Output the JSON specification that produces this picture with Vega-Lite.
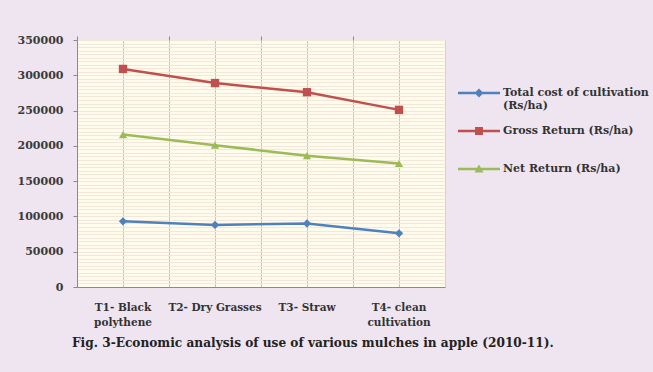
{
  "$schema": "https://vega.github.io/schema/vega-lite/v6.json",
  "width": 368,
  "height": 247,
  "autosize": {"type": "none"},
  "padding": {"left": 77, "top": 40, "right": 208, "bottom": 85},
  "background": "#EEE5F1",
  "config": {
    "view": {"fill": "#FFFCEE", "stroke": "#D6CCD6"},
    "font": "DejaVu Serif"
  },
  "title": {
    "text": "Fig. 3-Economic analysis of  use of various mulches in apple (2010-11).",
    "orient": "bottom",
    "anchor": "start",
    "frame": "group",
    "dx": -5,
    "offset": 8,
    "font": "DejaVu Serif Condensed",
    "fontSize": 13.5,
    "fontWeight": "bold",
    "color": "#222222"
  },
  "data": {
    "values": [
      {"Treatment": "T1- Black polythene", "Series": "Total cost of cultivation (Rs/ha)", "Value": 93000},
      {"Treatment": "T2- Dry Grasses", "Series": "Total cost of cultivation (Rs/ha)", "Value": 88000},
      {"Treatment": "T3- Straw", "Series": "Total cost of cultivation (Rs/ha)", "Value": 90000},
      {"Treatment": "T4- clean cultivation", "Series": "Total cost of cultivation (Rs/ha)", "Value": 76000},
      {"Treatment": "T1- Black polythene", "Series": "Gross Return (Rs/ha)", "Value": 309000},
      {"Treatment": "T2- Dry Grasses", "Series": "Gross Return (Rs/ha)", "Value": 289000},
      {"Treatment": "T3- Straw", "Series": "Gross Return (Rs/ha)", "Value": 276000},
      {"Treatment": "T4- clean cultivation", "Series": "Gross Return (Rs/ha)", "Value": 251000},
      {"Treatment": "T1- Black polythene", "Series": "Net Return (Rs/ha)", "Value": 216000},
      {"Treatment": "T2- Dry Grasses", "Series": "Net Return (Rs/ha)", "Value": 201000},
      {"Treatment": "T3- Straw", "Series": "Net Return (Rs/ha)", "Value": 186000},
      {"Treatment": "T4- clean cultivation", "Series": "Net Return (Rs/ha)", "Value": 175000}
    ]
  },
  "layer": [
    {
      "mark": {"type": "line", "strokeWidth": 2.5},
      "encoding": {
        "x": {
          "field": "Treatment", "type": "nominal", "sort": null,
          "scale": {"type": "band", "paddingInner": 0, "paddingOuter": 0},
          "axis": {
            "title": null, "bandPosition": 0.5, "grid": true, "gridColor": "#C9C3C9", "gridWidth": 1,
            "ticks": false, "domain": true, "domainColor": "#8A8A8A", "labelAngle": 0,
            "labelFont": "DejaVu Serif", "labelFontWeight": "bold", "labelFontSize": 10.5, "labelColor": "#333333",
            "labelPadding": 15, "labelLineHeight": 15,
            "labelExpr": "datum.label == 'T1- Black polythene' ? ['T1- Black', 'polythene'] : datum.label == 'T4- clean cultivation' ? ['T4- clean', 'cultivation'] : datum.label"
          }
        },
        "y": {
          "field": "Value", "type": "quantitative",
          "scale": {"domain": [0, 350000], "nice": false},
          "axis": {
            "title": null, "values": [0, 50000, 100000, 150000, 200000, 250000, 300000, 350000],
            "format": "d", "grid": false, "ticks": true, "tickSize": 4, "tickColor": "#8A8A8A",
            "domain": true, "domainColor": "#8A8A8A",
            "labelFont": "DejaVu Serif", "labelFontWeight": "bold", "labelFontSize": 11, "labelColor": "#3A3A3A",
            "labelPadding": 10
          }
        },
        "color": {
          "field": "Series", "type": "nominal", "sort": null,
          "scale": {"domain": ["Total cost of cultivation (Rs/ha)", "Gross Return (Rs/ha)", "Net Return (Rs/ha)"], "range": ["#4F81BD", "#C0504D", "#9BBB59"]},
          "legend": {
            "orient": "none", "legendX": 392, "legendY": 43, "title": null, "padding": 0,
            "labelFont": "DejaVu Serif", "labelFontWeight": "bold", "labelFontSize": 11, "labelColor": "#333333",
            "labelLimit": 220, "symbolSize": 400, "rowPadding": 10, "labelOffset": 14, "labelLineHeight": 14,
            "labelExpr": "datum.label == 'Total cost of cultivation (Rs/ha)' ? ['Total cost of cultivation', '(Rs/ha)'] : [datum.label, ' ']",
            "encode": {
              "symbols": {
                "update": {
                  "shape": {"signal": "datum.value == 'Total cost of cultivation (Rs/ha)' ? 'M-2.1,-0.125H2.1V0.125H-2.1Z M0,-0.45L0.45,0L0,0.45L-0.45,0Z' : datum.value == 'Gross Return (Rs/ha)' ? 'M-2.1,-0.125H2.1V0.125H-2.1Z M-0.4,-0.4H0.4V0.4H-0.4Z' : 'M-2.1,-0.125H2.1V0.125H-2.1Z M0,-0.45L0.45,0.35L-0.45,0.35Z'"},
                  "fill": {"scale": "color", "field": "value"},
                  "fillOpacity": {"value": 1},
                  "strokeWidth": {"value": 0}
                }
              }
            }
          }
        }
      }
    },
    {
      "transform": [{"filter": "datum.Series == 'Total cost of cultivation (Rs/ha)'"}],
      "mark": {"type": "point", "filled": true, "size": 70, "opacity": 1, "shape": "diamond"},
      "encoding": {
        "x": {
          "field": "Treatment", "type": "nominal", "sort": null,
          "axis": {
            "title": null, "bandPosition": 0, "grid": true, "gridColor": "#C9C3C9", "gridWidth": 1,
            "ticks": true, "tickSize": 4, "tickColor": "#8A8A8A", "labels": false, "domain": false
          }
        },
        "y": {
          "field": "Value", "type": "quantitative",
          "axis": {
            "orient": "left", "title": null, "labels": false, "ticks": false, "domain": false,
            "values": [5000, 10000, 15000, 20000, 25000, 30000, 35000, 40000, 45000, 50000, 55000, 60000, 65000, 70000, 75000, 80000, 85000, 90000, 95000, 100000, 105000, 110000, 115000, 120000, 125000, 130000, 135000, 140000, 145000, 150000, 155000, 160000, 165000, 170000, 175000, 180000, 185000, 190000, 195000, 200000, 205000, 210000, 215000, 220000, 225000, 230000, 235000, 240000, 245000, 250000, 255000, 260000, 265000, 270000, 275000, 280000, 285000, 290000, 295000, 300000, 305000, 310000, 315000, 320000, 325000, 330000, 335000, 340000, 345000, 350000],
            "grid": true, "gridColor": "#F3E7DA", "gridWidth": 1
          }
        },
        "color": {"field": "Series", "type": "nominal", "sort": null}
      }
    },
    {
      "transform": [{"filter": "datum.Series == 'Gross Return (Rs/ha)'"}],
      "mark": {"type": "point", "filled": true, "size": 70, "opacity": 1, "shape": "square"},
      "encoding": {
        "x": {"field": "Treatment", "type": "nominal", "sort": null, "axis": null},
        "y": {"field": "Value", "type": "quantitative", "axis": null},
        "color": {"field": "Series", "type": "nominal", "sort": null}
      }
    },
    {
      "transform": [{"filter": "datum.Series == 'Net Return (Rs/ha)'"}],
      "mark": {"type": "point", "filled": true, "size": 70, "opacity": 1, "shape": "triangle-up"},
      "encoding": {
        "x": {"field": "Treatment", "type": "nominal", "sort": null, "axis": null},
        "y": {"field": "Value", "type": "quantitative", "axis": null},
        "color": {"field": "Series", "type": "nominal", "sort": null}
      }
    }
  ],
  "resolve": {"axis": {"x": "independent", "y": "independent"}}
}
